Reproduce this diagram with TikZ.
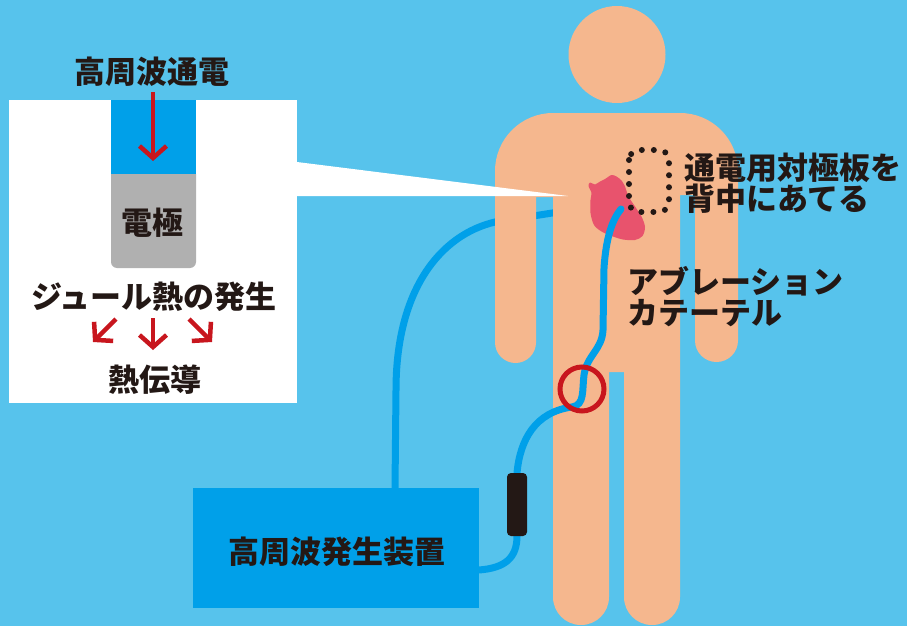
\documentclass[tikz,border=0pt]{standalone}
\usepackage{fontspec}
\setmainfont{Noto Sans CJK JP}[BoldFont={Noto Sans CJK JP Black}]
\usetikzlibrary{arrows.meta}

\definecolor{sky}{HTML}{57C3EC}
\definecolor{deepblue}{HTML}{00A0E9}
\definecolor{skin}{HTML}{F5B78E}
\definecolor{heartpink}{HTML}{E8536D}
\definecolor{alarmred}{HTML}{C8161E}
\definecolor{ink}{HTML}{231815}
\definecolor{steel}{HTML}{B0B0B0}

\tikzset{
  label/.style={font=\fontsize{31}{31}\selectfont\bfseries, text=ink, inner sep=0pt},
  cable/.style={draw=deepblue, line width=7pt, line cap=round},
  heatarrow/.style={draw=alarmred, line width=4.5pt,
    -{Straight Barb[length=12pt,width=27pt]}},
}

\begin{document}
\begin{tikzpicture}[x=1pt, y=-1pt]
  % background
  \fill[sky] (0,0) rectangle (907,626);
  \useasboundingbox (0,0) rectangle (907,626);

  % power cable from the generator, passing behind the body
  \draw[cable] (395,488) -- (396,390)
    .. controls (396,290) and (440,235) .. (495,222) -- (565,211);

  % body
  \fill[skin] (617,54.5) circle[radius=48.5];
  \fill[skin] (495,171) .. controls (495,139) and (521,113) .. (553,113)
    -- (680,113) .. controls (712,113) and (738,139) .. (738,171)
    -- (738,340.5) .. controls (738,352.4) and (728.4,362) .. (716.5,362)
    .. controls (704.6,362) and (695,352.4) .. (695,340.5)
    -- (695,195) -- (680,195) -- (680,597)
    .. controls (680,612.5) and (667.5,625) .. (652,625)
    .. controls (636.5,625) and (624,612.5) .. (624,597)
    -- (624,372) -- (609,372) -- (609,597)
    .. controls (609,612.5) and (596.5,625) .. (581,625)
    .. controls (565.5,625) and (553,612.5) .. (553,597)
    -- (553,197) -- (536,197) -- (536,342.5)
    .. controls (536,353.8) and (526.8,363) .. (515.5,363)
    .. controls (504.2,363) and (495,353.8) .. (495,342.5)
    -- cycle;

  % heart
  \fill[heartpink] plot[smooth cycle, tension=0.5] coordinates {
    (588.5,186) (590,182.5) (595,184.5) (600,181.5) (605,179)
    (611.5,175) (616.5,176.5) (621.5,180.5) (625,186.5) (628.5,196.5)
    (635,206.5) (641.5,216.5) (645,227) (642.5,236) (635,240)
    (623,239.5) (611.5,236) (601.5,231.5) (594,225) (590.5,213)
    (590.5,200) (591.5,193)};

  % return electrode on the back
  \draw[ink, line width=6pt, line cap=round, dash pattern=on 0pt off 12pt,
        rounded corners=10pt] (629,150) rectangle (669,212);

  % catheter and handle
  \draw[cable] (479,570) .. controls (505,568) and (517,558) .. (517,536);
  \draw[cable] (517,473) .. controls (520,440) and (535,412) .. (572,407)
    .. controls (585,405) and (582,390) .. (584,375)
    .. controls (587,355) and (602,350) .. (603,330)
    -- (604,268) .. controls (606,238) and (612,220) .. (621,209);
  \fill[ink, rounded corners=4pt] (507,473) rectangle (527,536);
  \draw[alarmred, line width=5pt] (582,389) circle[radius=22];

  % generator
  \fill[deepblue] (193,488) rectangle (479,608);
  \node[label] (gen) at (337,552) {高周波発生装置};

  % magnified view of the electrode tip
  \fill[white] (297,162) -- (568,196) -- (297,196) -- cycle;
  \fill[white] (9,100) rectangle (297,403);
  \fill[deepblue] (111,100) rectangle (196,174);
  \fill[steel] (111,174) -- (196,174) -- (196,262)
    .. controls (196,265.3) and (193.3,268) .. (190,268) -- (117,268)
    .. controls (113.7,268) and (111,265.3) .. (111,262) -- cycle;

  \node[label] (rf) at (152,72) {高周波通電};
  \node[label] (tip) at (152,223) {電極};
  \node[label] (joule) at (154,297) {ジュール熱の発生};
  \node[label] (cond) at (155,380) {熱伝導};

  \coordinate (rfstart) at (153,92);
  \coordinate (rfend) at (153,161);
  \draw[heatarrow] (rfstart) -- (rfend);
  \coordinate (dl0) at (116,319); \coordinate (dl1) at (93,342);
  \coordinate (dm0) at (153,318); \coordinate (dm1) at (153,350);
  \coordinate (dr0) at (189,319); \coordinate (dr1) at (212,342);
  \draw[heatarrow] (dl0) -- (dl1);
  \draw[heatarrow] (dm0) -- (dm1);
  \draw[heatarrow] (dr0) -- (dr1);

  % callouts on the body
  \node[label, anchor=west, align=left] (pad) at (684,183)
    {通電用対極板を\\背中にあてる};
  \node[label, anchor=west, align=left] (cath) at (627,297)
    {アブレーション\\カテーテル};
\end{tikzpicture}
\end{document}
